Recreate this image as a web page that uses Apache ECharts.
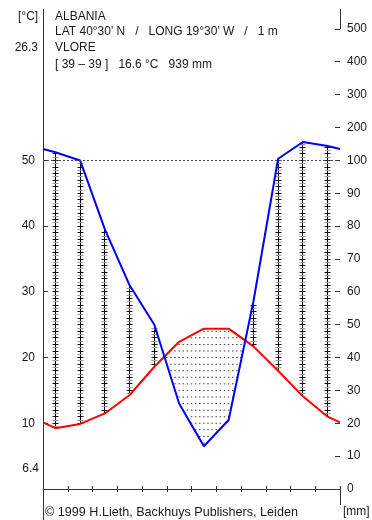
<!DOCTYPE html>
<html>
<head>
<meta charset="utf-8">
<script src="https://cdn.jsdelivr.net/npm/echarts@6/dist/echarts.min.js"></script>
<style>
  html, body { margin: 0; padding: 0; background: #fff; }
  #chart { width: 372px; height: 520px; }
</style>
</head>
<body>
<div id="chart"></div>
<script>
// Monthly climate normals for Vlorë, Albania (Walter–Lieth diagram)
const months = ['Jan', 'Feb', 'Mar', 'Apr', 'May', 'Jun', 'Jul', 'Aug', 'Sep', 'Oct', 'Nov', 'Dec'];
const tempC = [9.25, 9.9, 11.5, 14.3, 18.6, 22.4, 24.4, 24.4, 21.7, 18.0, 14.1, 11.0];
const precipMm = [125, 100, 79, 62, 50, 26, 13, 21, 57, 105, 156, 144];

// Axis tick labels
const tempTicks = [10, 20, 30, 40, 50];
const precipTicks = [0, 10, 20, 30, 40, 50, 60, 70, 80, 90, 100, 200, 300, 400, 500];

// Header texts
const country = 'ALBANIA';
const station = 'VLORE';
const coords = "LAT 40°30' N   /   LONG 19°30' W   /   1 m";
const summary = '[ 39 – 39 ]   16.6 °C   939 mm';
const maxWarm = '26.3';
const minCold = '6.4';

// Diagram scale: 10 °C = 20 mm up to 100 mm, then 100 mm per 5 units
function mmToDiag(p) { return p <= 100 ? p / 2 : 50 + (p - 100) / 20; }
function diagToMm(v) { return v <= 50 ? v * 2 : 100 + (v - 50) * 20; }

const precipDiag = precipMm.map(mmToDiag);

// Polyline points: month centres plus wrap-around edges
function withEdges(vals) {
  const edge = (vals[0] + vals[vals.length - 1]) / 2;
  const pts = [[0, edge]];
  vals.forEach((v, i) => pts.push([i + 0.5, v]));
  pts.push([12, edge]);
  return pts;
}
const tempLine = withEdges(tempC);
const precipLine = withEdges(precipDiag);

function interp(pts, x) {
  for (let k = 0; k < pts.length - 1; k++) {
    const a = pts[k], b = pts[k + 1];
    if (x >= a[0] && x <= b[0]) {
      return a[1] + (b[1] - a[1]) * (x - a[0]) / (b[0] - a[0]);
    }
  }
  return pts[pts.length - 1][1];
}

const crisp = v => Math.round(v - 0.5) + 0.5;

// Humid months: vertical hatch with small cross ticks every 1 mm
function renderHatch(params, api) {
  const x = api.value(0);
  const t = api.value(1);
  const p = api.value(2);
  if (p <= t) return null;
  const top = api.coord([x, p]);
  const bot = api.coord([x, t]);
  const cx = crisp(top[0]);
  const children = [{
    type: 'line',
    shape: { x1: cx, y1: top[1], x2: cx, y2: bot[1] },
    style: { stroke: '#000', lineWidth: 1 }
  }];
  for (let k = Math.ceil(t / 0.5 + 0.01); k * 0.5 < p - 0.05; k++) {
    const y = crisp(api.coord([x, k * 0.5])[1]);
    children.push({
      type: 'line',
      shape: { x1: cx - 3, y1: y, x2: cx + 3, y2: y },
      style: { stroke: k % 2 ? '#9a9a9a' : '#111', lineWidth: 1 }
    });
  }
  return { type: 'group', children };
}

// Dry period: dotted fill between precipitation (below) and temperature (above)
function renderDots(params, api) {
  const children = [];
  for (let j = 1; j < 72; j++) {
    const x = j / 6;
    const t = interp(tempLine, x);
    const p = interp(precipLine, x);
    if (p >= t) continue;
    for (let v = Math.ceil(p + 0.2); v < t - 0.2; v++) {
      const c = api.coord([x, v]);
      children.push({
        type: 'rect',
        shape: { x: c[0] - 0.75, y: c[1] - 0.5, width: 1.5, height: 1 },
        style: { fill: '#444' }
      });
    }
  }
  return { type: 'group', children };
}

// Inward ticks on both value axes at the labelled positions
function renderAxisTicks(params, api) {
  const children = [];
  tempTicks.forEach(v => {
    const c = api.coord([0, v]);
    const y = crisp(c[1]);
    children.push({ type: 'line', shape: { x1: c[0], y1: y, x2: c[0] + 5, y2: y }, style: { stroke: '#333', lineWidth: 1 } });
  });
  precipTicks.forEach(m => {
    const c = api.coord([12, mmToDiag(m)]);
    const y = crisp(c[1]);
    children.push({ type: 'line', shape: { x1: c[0] - 5, y1: y, x2: c[0], y2: y }, style: { stroke: '#333', lineWidth: 1 } });
  });
  return { type: 'group', children };
}

const font = '"Liberation Sans", Arial, sans-serif';
const txt = '#1a1a1a';
const axisCol = '#333';

const chart = echarts.init(document.getElementById('chart'), null, { renderer: 'canvas' });

chart.setOption({
  animation: false,
  backgroundColor: '#fff',
  grid: { left: 43, right: 32, top: 29, bottom: 31, containLabel: false },
  xAxis: [{
    type: 'value', min: 0, max: 12, interval: 1,
    axisLine: { show: true, lineStyle: { color: axisCol, width: 1 } },
    axisTick: { show: true, inside: true, length: 3, lineStyle: { color: axisCol } },
    axisLabel: { show: false },
    splitLine: { show: false }
  }, {
    type: 'value', min: 0, max: 12, interval: 1, position: 'bottom',
    axisLine: { show: false },
    axisTick: { show: true, inside: false, length: 3, lineStyle: { color: axisCol } },
    axisLabel: { show: false },
    splitLine: { show: false }
  }],
  yAxis: [{
    type: 'value', min: 0, max: 70, interval: 10, position: 'left',
    axisLine: { show: true, lineStyle: { color: axisCol, width: 1 } },
    axisTick: { show: false },
    axisLabel: { show: true, margin: 8, customValues: tempTicks, color: txt, fontSize: 12, fontFamily: font },
    splitLine: { show: false }
  }, {
    type: 'value', min: 0, max: 70, interval: 5, position: 'right',
    axisLine: { show: true, lineStyle: { color: axisCol, width: 1 } },
    axisTick: { show: false },
    axisLabel: {
      show: true, margin: 7, customValues: precipTicks.map(mmToDiag),
      color: txt, fontSize: 12, fontFamily: font,
      formatter: v => String(Math.round(diagToMm(v)))
    },
    splitLine: { show: false }
  }],
  series: [{
    type: 'custom', name: 'axisTicks', renderItem: renderAxisTicks, data: [[0, 0]],
    silent: true, z: 1, clip: false
  }, {
    type: 'custom', name: 'dry', renderItem: renderDots, data: [[0, 0]],
    silent: true, z: 1, clip: false
  }, {
    type: 'custom', name: 'humid', renderItem: renderHatch,
    data: months.map((m, i) => [i + 0.5, tempC[i], precipDiag[i]]),
    silent: true, z: 2, clip: false
  }, {
    type: 'line', name: 'temperature', data: tempLine, showSymbol: false, symbol: 'none',
    lineStyle: { color: '#ff0000', width: 2 }, z: 3, silent: true
  }, {
    type: 'line', name: 'precipitation', data: precipLine, showSymbol: false, symbol: 'none',
    lineStyle: { color: '#0000ff', width: 2 }, z: 4, silent: true,
    markLine: {
      silent: true, symbol: 'none', label: { show: false },
      lineStyle: { color: '#444', type: [2, 2], width: 1 },
      data: [{ yAxis: mmToDiag(100) }]
    }
  }],
  graphic: [
    // axis line extensions
    { type: 'line', shape: { x1: 43.5, y1: 9, x2: 43.5, y2: 29 }, style: { stroke: axisCol, lineWidth: 1 } },
    { type: 'line', shape: { x1: 43.5, y1: 489, x2: 43.5, y2: 520 }, style: { stroke: axisCol, lineWidth: 1 } },
    { type: 'line', shape: { x1: 340.5, y1: 9, x2: 340.5, y2: 29 }, style: { stroke: axisCol, lineWidth: 1 } },
    { type: 'line', shape: { x1: 340.5, y1: 489, x2: 340.5, y2: 505 }, style: { stroke: axisCol, lineWidth: 1 } },
    // header
    { type: 'text', style: { text: '[°C]', x: 18, y: 17, font: '12px ' + font, fill: txt, verticalAlign: 'middle' } },
    { type: 'text', style: { text: country, x: 55, y: 17, font: '12px ' + font, fill: txt, verticalAlign: 'middle' } },
    { type: 'text', style: { text: coords, x: 55, y: 32, font: '12px ' + font, fill: txt, verticalAlign: 'middle' } },
    { type: 'text', style: { text: maxWarm, x: 38, y: 48, font: '12px ' + font, fill: txt, align: 'right', verticalAlign: 'middle' } },
    { type: 'text', style: { text: station, x: 55, y: 48, font: '12px ' + font, fill: txt, verticalAlign: 'middle' } },
    { type: 'text', style: { text: summary, x: 55, y: 65, font: '12px ' + font, fill: txt, verticalAlign: 'middle' } },
    { type: 'text', style: { text: minCold, x: 39, y: 469, font: '12px ' + font, fill: txt, align: 'right', verticalAlign: 'middle' } },
    // footer
    { type: 'text', style: { text: '© 1999 H.Lieth, Backhuys Publishers, Leiden', x: 45, y: 513, font: '12.6px ' + font, fill: txt, verticalAlign: 'middle' } },
    { type: 'text', style: { text: '[mm]', x: 343, y: 512, font: '12px ' + font, fill: txt, verticalAlign: 'middle' } }
  ]
});
</script>
</body>
</html>
